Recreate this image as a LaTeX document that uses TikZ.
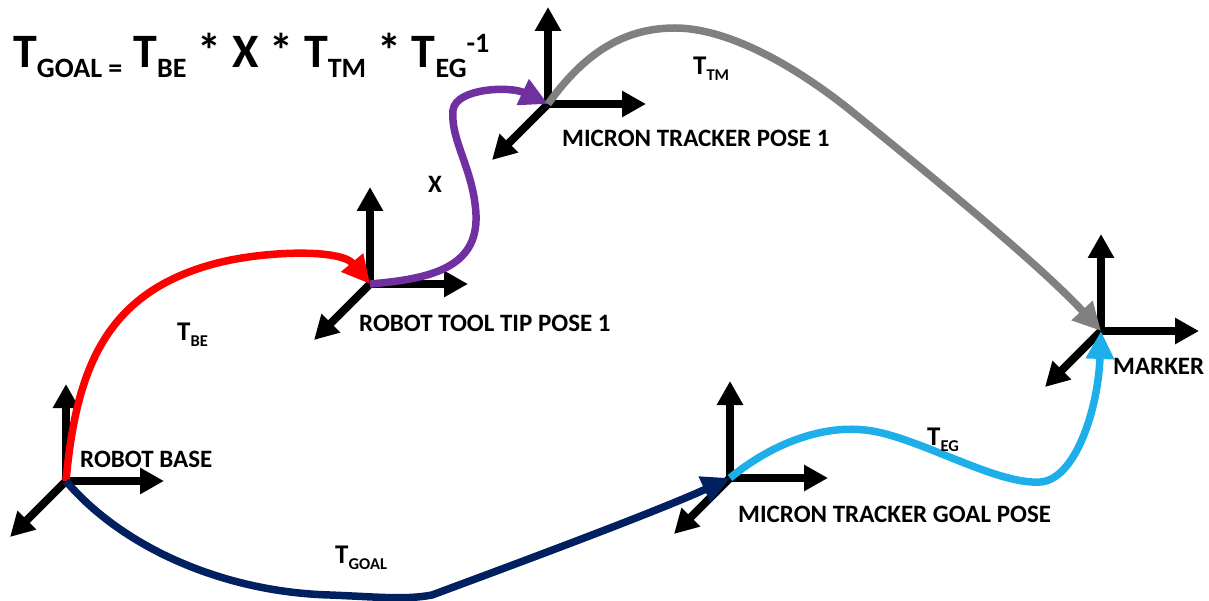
\documentclass[tikz,border=0pt]{standalone}
\usepackage{fontspec}
\setmainfont{Carlito}
\usetikzlibrary{arrows.meta}

\definecolor{becol}{HTML}{FF0000}
\definecolor{xcol}{HTML}{7030A0}
\definecolor{tmcol}{HTML}{808080}
\definecolor{egcol}{HTML}{1EAEEA}
\definecolor{goalcol}{HTML}{002060}

% subscript / superscript pieces of the big formula
\newcommand\bigsub[1]{{\fontsize{28}{28}\selectfont\raisebox{-10pt}{#1}}}
\newcommand\bigsup[1]{{\fontsize{28}{28}\selectfont\raisebox{15pt}{#1}}}
% subscript of the transform labels on the curves
\newcommand\lblsub[1]{{\fontsize{16.5}{16.5}\selectfont\raisebox{-6pt}{#1}}}

% a coordinate frame: origin plus three axes
\newcommand\poseframe[3]{%
  \coordinate (#1) at (#2,#3);
  \draw[axis] (#1) -- ++(0,-97);
  \draw[axis] (#1) -- ++(98,0);
  \draw[axis] (#1) -- ++(-56,56);
}

\begin{document}
\begin{tikzpicture}[x=1pt,y=-1pt,
  axis/.style={line width=8pt, line cap=rect, -{Triangle[length=24pt,width=25pt]}},
  link/.style={line width=7.5pt, -{Triangle[length=28pt,width=27pt]}},
  lbl/.style={font=\bfseries\fontsize{25}{25}\selectfont, anchor=base west, inner sep=0pt},
  tlbl/.style={font=\bfseries\fontsize{27}{27}\selectfont, anchor=base west, inner sep=0pt}]

\useasboundingbox (0,0) rectangle (1209,601);

% frames
\poseframe{base}{66}{481}
\poseframe{tool}{370}{284}
\poseframe{mt1}{548}{104}
\poseframe{goal}{730}{478}
\poseframe{marker}{1101}{331}

% transforms between frames
\draw[link, becol] (base) .. controls (76,370) and (105,295) .. (210,265)
  .. controls (258,251) and (340,248) .. (tool);
\draw[link, xcol] (tool) .. controls (430,279) and (478,268) .. (476,215)
  .. controls (474,170) and (450,140) .. (453,110)
  .. controls (456,88) and (510,86) .. (mt1);
\draw[link, tmcol] (mt1) .. controls (585,52) and (625,28) .. (675,28)
  .. controls (725,28) and (790,62) .. (850,110)
  .. controls (930,175) and (1040,265) .. (marker);
\draw[link, egcol] (goal) .. controls (770,445) and (820,425) .. (865,430)
  .. controls (915,435) and (995,485) .. (1040,482)
  .. controls (1075,480) and (1098,410) .. (marker);
\draw[link, goalcol] (base) .. controls (120,545) and (220,592) .. (330,595)
  .. controls (380,597) and (405,600) .. (432,595)
  .. controls (540,555) and (660,510) .. (goal);

% frame names
\node[lbl] (lbase) at (80,467) {ROBOT BASE};
\node[lbl] (ltool) at (359,331) {ROBOT TOOL TIP POSE 1};
\node[lbl] (lmt1) at (562,147) {MICRON TRACKER POSE 1};
\node[lbl] (lgoal) at (738,522) {MICRON TRACKER GOAL POSE};
\node[lbl] (lmarker) at (1113,374) {MARKER};

% transform names
\node[lbl] (lx) at (428,193) {X};
\node[tlbl] (lbe) at (177,340) {T\lblsub{BE}};
\node[tlbl] (ltm) at (693,75) {T\lblsub{TM}};
\node[tlbl] (leg) at (927,445) {T\lblsub{EG}};
\node[tlbl] (lgl) at (335,563) {T\lblsub{GOAL}};

% the chain of transforms
\node[anchor=base west, inner sep=0pt, font=\bfseries\fontsize{48}{48}\selectfont] (formula) at (13,68)
  {T\bigsub{GOAL =} T\bigsub{BE} * X * T\bigsub{TM} * T\bigsub{EG}\bigsup{-1}};
\end{tikzpicture}
\end{document}
